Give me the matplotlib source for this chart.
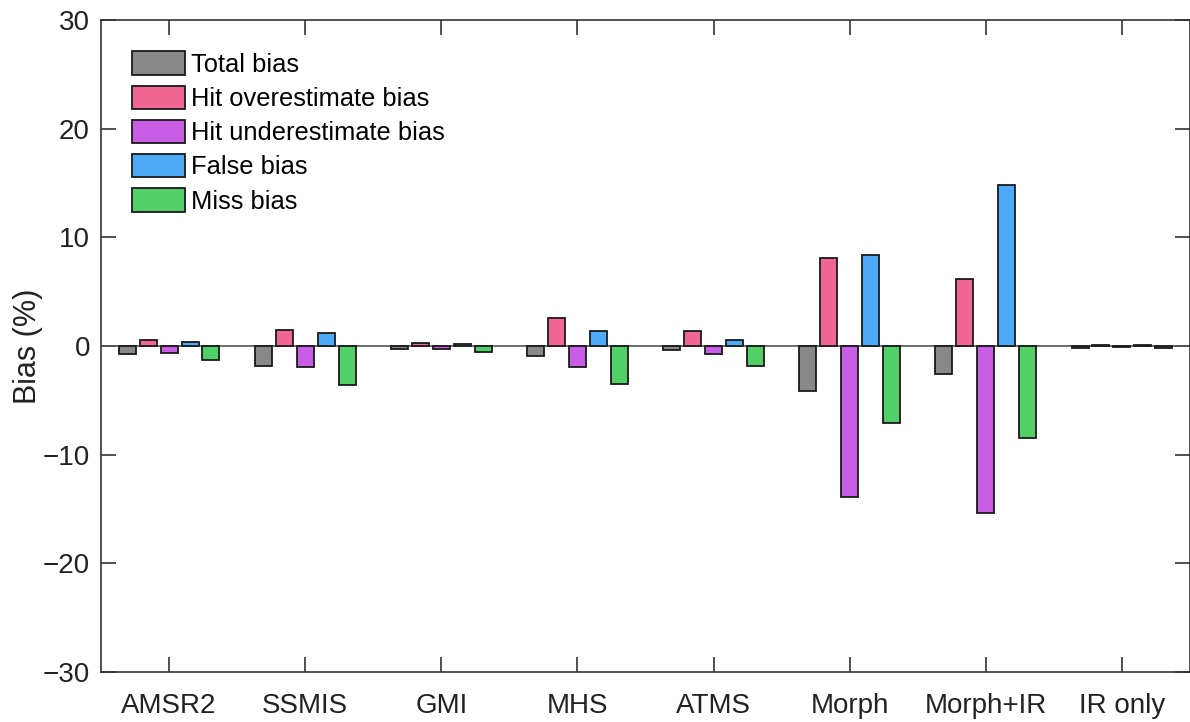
import matplotlib.pyplot as plt
import numpy as np

plt.rcParams['font.family'] = ['Liberation Sans', 'DejaVu Sans']

categories = ['AMSR2', 'SSMIS', 'GMI', 'MHS', 'ATMS', 'Morph', 'Morph+IR', 'IR only']
series_names = ['Total bias', 'Hit overestimate bias', 'Hit underestimate bias', 'False bias', 'Miss bias']

total_bias = [-0.77, -1.85, -0.25, -0.95, -0.33, -4.12, -2.55, -0.15]
hit_over = [0.55, 1.50, 0.28, 2.58, 1.42, 8.14, 6.20, 0.05]
hit_under = [-0.65, -1.97, -0.30, -1.90, -0.74, -13.90, -15.40, -0.10]
false_bias = [0.34, 1.23, 0.22, 1.35, 0.53, 8.36, 14.80, 0.06]
miss_bias = [-1.30, -3.60, -0.58, -3.47, -1.83, -7.10, -8.45, -0.20]

colors = ['#888888', '#f06592', '#c95de6', '#4eaaf6', '#50d066']

fig = plt.figure(figsize=(11.9, 7.22), dpi=100)
ax = fig.add_axes([101/1190, 50/722, 1089/1190, 652/722])

x = np.arange(1, len(categories) + 1)
step = 0.154
width = 0.125
all_series = [total_bias, hit_over, hit_under, false_bias, miss_bias]
for i, vals in enumerate(all_series):
    ax.bar(x + (i - 2) * step, vals, width, color=colors[i], edgecolor='#1a1a1a',
           linewidth=1.3, label=series_names[i], zorder=3)

ax.axhline(0, color='#555555', linewidth=1.2, zorder=2)

ax.set_xlim(0.5, 8.5)
ax.set_ylim(-30, 30)
ax.set_yticks([-30, -20, -10, 0, 10, 20, 30])
ax.set_xticks(x)
ax.set_xticklabels(categories)
ax.tick_params(direction='in', length=11, width=1.2, color='#333333',
               labelsize=20, top=True, right=True, labelcolor='#222222')
ax.tick_params(axis='x', pad=15)
ax.tick_params(axis='y', pad=8)
for s in ax.spines.values():
    s.set_color('#333333')
    s.set_linewidth(1.2)
ax.set_ylabel('Bias (%)', fontsize=22, color='#222222', labelpad=0)

ax.legend(loc='upper left', bbox_to_anchor=(0.0285, 0.952), frameon=False,
          fontsize=18.4, handlelength=2.07, handleheight=1.02, handletextpad=0.25,
          labelspacing=0.35, borderaxespad=0, borderpad=0)

fig.savefig('out.png', dpi=100)
